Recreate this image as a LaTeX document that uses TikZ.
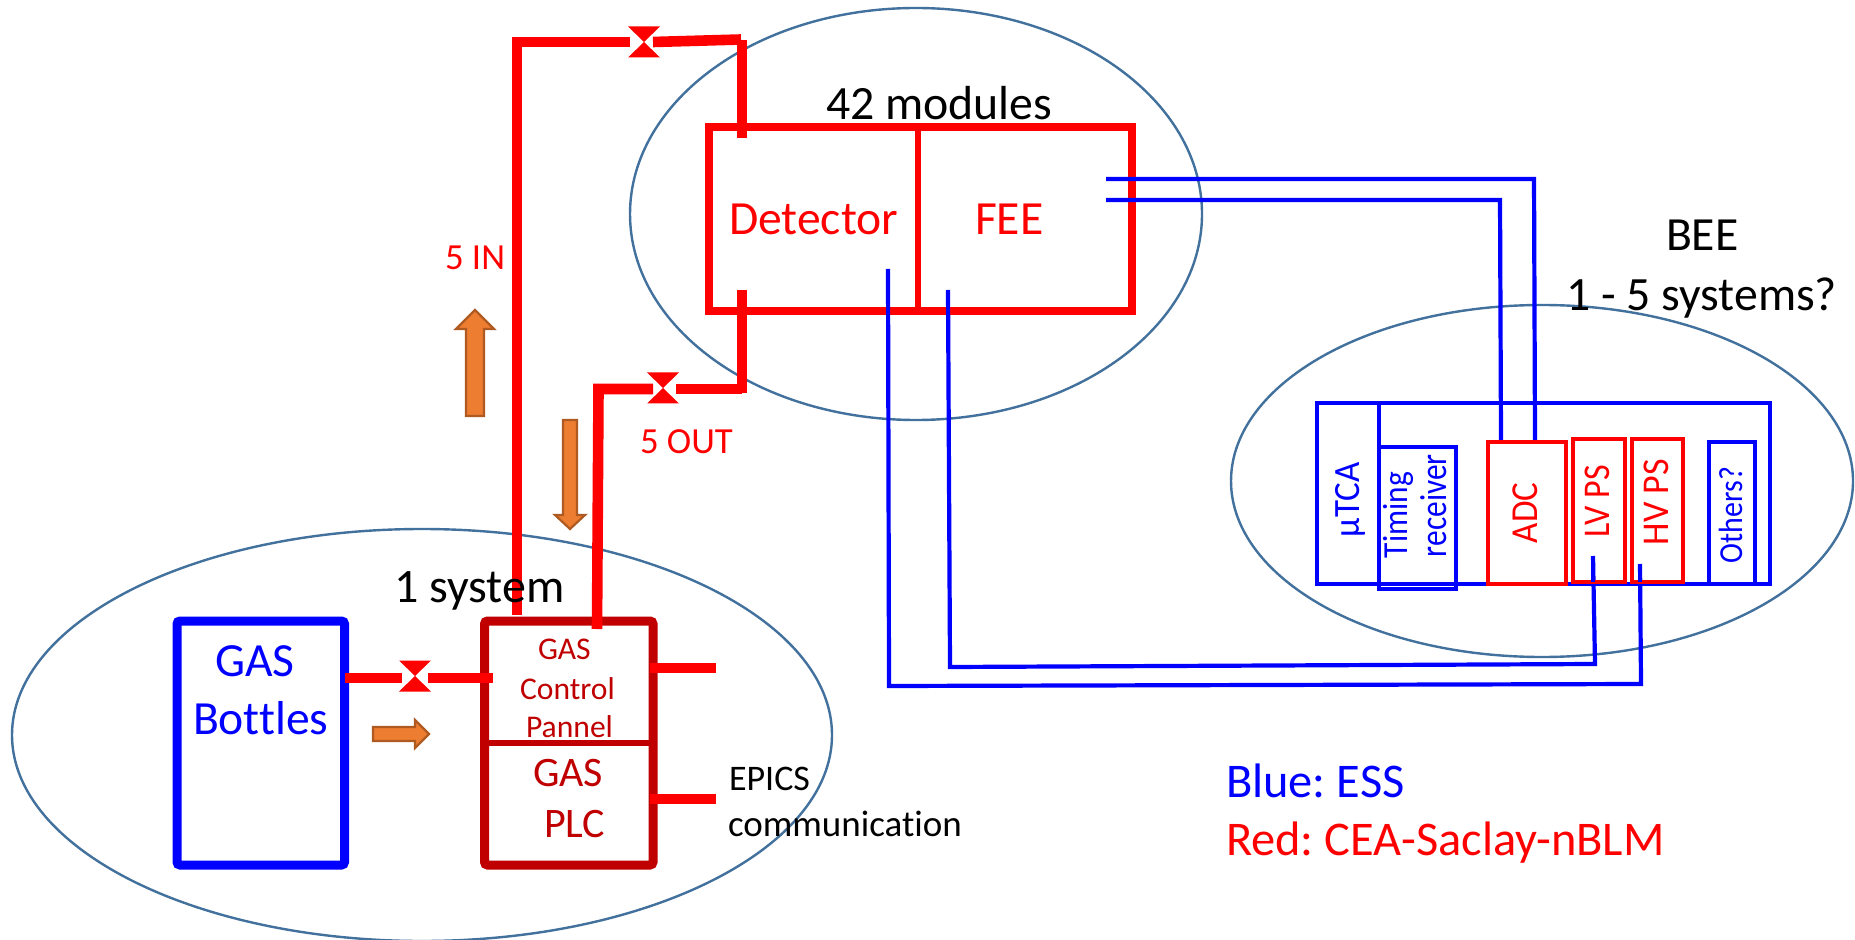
\documentclass[tikz,border=0pt]{standalone}
\usepackage{fontspec}
\setmainfont[Ligatures=NoCommon]{Carlito}
\frenchspacing
\definecolor{ringc}{HTML}{41719C}
\definecolor{orangef}{HTML}{ED7D31}
\definecolor{oranged}{HTML}{AE5A21}
\definecolor{darkredc}{HTML}{C00000}
\definecolor{pureblue}{HTML}{0000FF}
\definecolor{purered}{HTML}{FF0000}
\newcommand{\fs}[1]{\fontsize{#1pt}{#1pt}\selectfont}
\newcommand{\tallr}[3]{\scalebox{1}[#1]{\fs{#2}#3}}
\tikzset{
  ring/.style={draw=ringc,line width=1.2pt},
  txt/.style={inner sep=0pt,outer sep=0pt,anchor=base west},
  vtxt/.style={txt,rotate=90},
  boxn/.style={inner sep=0pt,outer sep=0pt,rectangle},
  pipe/.style={draw=purered,line width=5.3pt,line cap=butt,line join=miter},
  wire/.style={draw=pureblue,line width=2.1pt},
  gasarrow/.style={draw=oranged,line width=1.1pt,fill=orangef,line join=miter},
}
\newcommand{\valve}[3]{%
  \coordinate (#1) at (#2,#3);
  \fill[purered] (#2-16,#3-15.5) -- (#2+16,#3-15.5) -- (#2,#3) -- cycle;
  \fill[purered] (#2-16,#3+15.5) -- (#2+16,#3+15.5) -- (#2,#3) -- cycle;
}
\newcommand{\bx}[8][]{% options, name, x1,y1,x2,y2, colour, width
  \node[boxn,draw=#7,line width=#8pt,minimum width={(#5-#3)*0.5pt},minimum height={(#6-#4)*0.5pt},#1] (#2) at ({(#3+#5)/2},{(#4+#6)/2}) {};
}
\begin{document}
\begin{tikzpicture}[x=0.5pt,y=-0.5pt]
\useasboundingbox (0,0) rectangle (1855,940);
\fill[white] (0,0) rectangle (1855,940);

% ellipses
\draw[ring] (422,735) ellipse [x radius=410,y radius=206];
\draw[ring] (916,214) ellipse [x radius=286,y radius=206];
\draw[ring] (1542,481) ellipse [x radius=311,y radius=176];

% detector / FEE box
\bx{mod}{709}{127}{1132}{311}{purered}{4.2}
\coordinate (divT) at (918,127);
\coordinate (divB) at (918,311);
\draw[purered,line width=2.6pt] (divT) -- (divB);

% control box
\bx[rounded corners=1.5pt]{plc}{484.5}{621}{653}{865}{darkredc}{4.5}
\coordinate (plcL) at (484.5,743);
\coordinate (plcR) at (653,743);
\draw[darkredc,line width=3pt] (plcL) -- (plcR);
% gas bottles
\bx[rounded corners=1.5pt]{gas}{177}{621}{344.5}{865}{pureblue}{4.5}

% valves
\valve{v1}{644}{42}
\valve{v2}{663}{388}
\valve{v3}{415}{676}

% pipes
\coordinate (inB) at (517,615);
\coordinate (inC) at (517,42);
\coordinate (inV) at (630,42);
\coordinate (inV2) at (653,42);
\coordinate (inE) at (741,39.5);
\coordinate (inF) at (742,40);
\coordinate (inG) at (742,138);
\draw[pipe] (inB) -- (inC) -- (inV);
\draw[pipe] (inV2) -- (inE);
\draw[pipe] (inF) -- (inG);
\coordinate (outB) at (597,629);
\coordinate (outC) at (598.5,389);
\coordinate (outV) at (653,389);
\coordinate (outV2) at (676,389);
\coordinate (outD) at (742,389);
\coordinate (outE) at (742,290);
\coordinate (outF) at (742,393);
\draw[pipe] (outB) -- (outC) -- (outV);
\draw[pipe] (outV2) -- (outD);
\draw[pipe] (outE) -- (outF);
\coordinate (gA) at (345,678);
\coordinate (gB) at (402,678);
\coordinate (gC) at (428,678);
\coordinate (gD) at (493,678);
\draw[pipe] (gA) -- (gB);
\draw[pipe] (gC) -- (gD);
\coordinate (s1a) at (650,668);
\coordinate (s1b) at (716,668);
\coordinate (s2a) at (650,799);
\coordinate (s2b) at (716,799);
\draw[pipe] (s1a) -- (s1b);
\draw[pipe] (s2a) -- (s2b);

% orange arrows
\draw[gasarrow] (466,416) -- (466,329) -- (456,329) -- (475,310) -- (494,329) -- (484,329) -- (484,416) -- cycle;
\draw[gasarrow] (563,420) -- (577,420) -- (577,515) -- (585,515) -- (570,529) -- (555,515) -- (563,515) -- cycle;
\draw[gasarrow] (373,727) -- (415,727) -- (415,720) -- (429,734) -- (415,748) -- (415,741) -- (373,741) -- cycle;

% BEE crate
\bx{crate}{1317}{403}{1770}{584}{pureblue}{2.2}
\coordinate (cdT) at (1379,403);
\coordinate (cdB) at (1379,447);
\draw[wire] (cdT) -- (cdB);
\bx{timing}{1379}{447}{1456}{589}{pureblue}{2.2}
\bx{others}{1709}{442}{1755}{584}{pureblue}{2.2}

% wires
\coordinate (wa1) at (1106,179);
\coordinate (wa2) at (1534,179);
\coordinate (wa3) at (1535,441);
\coordinate (wb1) at (1106,200);
\coordinate (wb2) at (1500,200);
\coordinate (wb3) at (1501,441);
\coordinate (wc1) at (888,269);
\coordinate (wc2) at (889,686);
\coordinate (wc3) at (1641,684);
\coordinate (wc4) at (1640,564);
\coordinate (wd1) at (948,290);
\coordinate (wd2) at (950,667);
\coordinate (wd3) at (1595,664);
\coordinate (wd4) at (1593,556);
\draw[wire] (wa1) -- (wa2) -- (wa3);
\draw[wire] (wb1) -- (wb2) -- (wb3);
\draw[wire] (wc1) -- (wc2) -- (wc3) -- (wc4);
\draw[wire] (wd1) -- (wd2) -- (wd3) -- (wd4);

\bx{adc}{1488}{442}{1566}{584}{purered}{2.4}
\bx{lv}{1573}{439}{1625}{582}{purered}{2.4}
\bx{hv}{1632}{439}{1683}{582}{purered}{2.4}
\coordinate (wd5) at (1593,582);
\coordinate (wc5) at (1640,582);
\draw[wire] (wd4) -- (wd5);
\draw[wire] (wc4) -- (wc5);

% texts
\node[txt,text=black] (t42) at (826,120) {\fs{23.9}42 modules};
\node[txt,text=purered] (tdet) at (729,235) {\fs{23.8}Detector};
\node[txt,text=purered] (tfee) at (975,235) {\fs{23.8}FEE};
\node[txt,text=purered] (t5in) at (445,270) {\fs{18.4}5 IN};
\node[txt,text=purered] (t5out) at (640,453) {\fs{18.4}5 OUT};
\node[txt,text=black] (t1s) at (394,602) {\fs{24}1 system};
\node[txt,text=pureblue] (tg1) at (215,676) {\fs{23.8}GAS};
\node[txt,text=pureblue] (tg2) at (193,734) {\fs{23.8}Bottles};
\node[txt,text=darkredc] (tc1) at (538,659) {\fs{15.8}GAS};
\node[txt,text=darkredc] (tc2) at (520,699) {\fs{15.8}Control};
\node[txt,text=darkredc] (tc3) at (526,737) {\fs{15.8}Pannel};
\node[txt,text=darkredc] (tp1) at (533,786) {\fs{21}GAS};
\node[txt,text=darkredc] (tp2) at (544,837) {\fs{21}PLC};
\node[txt,text=black] (te1) at (729,790) {\fs{18}EPICS};
\node[txt,text=black] (te2) at (728,836) {\fs{18.5}communication};
\node[txt,text=black] (tb1) at (1666,251) {\fs{23.8}BEE};
\node[txt,text=black] (tb2) at (1566,311) {\fs{23.9}1 - 5 systems?};
\node[txt,text=pureblue] (tl1) at (1226,797) {\fs{24.2}Blue: ESS};
\node[txt,text=purered] (tl2) at (1226,855) {\fs{24.2}Red: CEA-Saclay-nBLM};
\node[vtxt,text=pureblue] (rm) at (1359,537) {\tallr{1.06}{17.5}{µTCA}};
\node[vtxt,text=pureblue] (rt1) at (1407,558) {\tallr{1.12}{15.7}{Timing}};
\node[vtxt,text=pureblue] (rt2) at (1446,557) {\tallr{1.2}{15.7}{receiver}};
\node[vtxt,text=purered] (ra) at (1537,543) {\tallr{1.09}{17.5}{ADC}};
\node[vtxt,text=purered] (rl) at (1609,537) {\tallr{1.11}{17}{LV PS}};
\node[vtxt,text=purered] (rh) at (1668,545) {\tallr{1.05}{18}{HV PS}};
\node[vtxt,text=pureblue] (ro) at (1742,563) {\tallr{1.12}{15}{Others?}};
\end{tikzpicture}
\end{document}
